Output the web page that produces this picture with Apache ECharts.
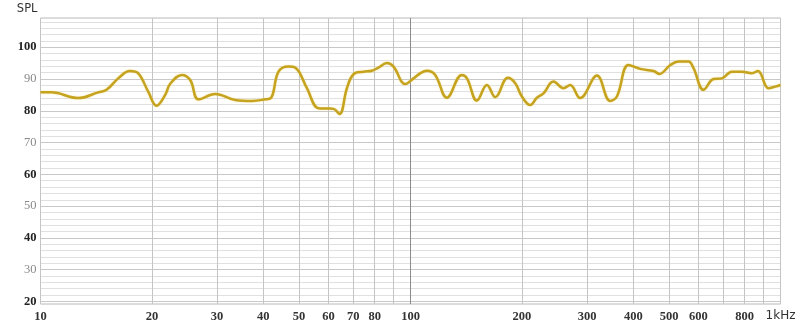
<!DOCTYPE html>
<html>
<head>
<meta charset="utf-8">
<script src="https://cdn.jsdelivr.net/npm/echarts@6/dist/echarts.min.js"></script>
<style>
html,body{margin:0;padding:0;background:#fff;}
#c{width:800px;height:329px;}
</style>
</head>
<body>
<div id="c"></div>
<script>
// frequencies (Hz)
const freqs = [10,10.7,12.64,14.32,15.08,16.22,17.44,18.37,19.55,20.59,21.73,22.42,24.11,25.39,26.73,29.66,33.59,37.27,40.49,42.03,43.99,46.81,48.8,52.48,56.41,60.02,61.92,64.29,67.32,70.15,74.64,78.63,81.93,86.34,89.98,96.76,101.9,106.2,110.7,116.6,125.4,137.7,142.1,151.2,160.9,169.4,183.3,191.9,200,210.7,219.6,228.8,243.5,259.1,270.1,287.4,319.1,346.5,361.3,388.4,417.7,453.8,471,503.5,530.2,564.1,582,619.4,658.9,694.3,738.8,786.5,837,868.8,928.2,967.6,1000];
// SPL values (dB)
const spl = [85.8,85.8,84.0,85.8,86.6,90.2,92.5,91.8,86.0,81.6,85.0,88.5,91.3,89.7,83.6,85.3,83.4,83.1,83.6,84.1,92.3,93.9,93.6,87.1,80.8,80.7,80.6,79.0,87.1,91.5,92.3,92.6,93.6,95.0,93.9,88.4,90.2,91.8,92.6,91.3,84.1,91.3,90.2,83.2,88.1,84.3,90.4,88.7,84.5,81.8,84.1,85.5,89.2,87.1,88.1,84.0,91.1,83.1,84.5,94.4,93.2,92.5,91.6,94.4,95.5,95.5,93.4,86.6,90.0,90.2,92.3,92.3,91.8,92.5,87.1,87.6,88.1];
// x tick labels
const xLabelValues = [10,20,30,40,50,60,70,80,100,200,300,400,500,600,800,1000];
// vertical grid values
const xGridValues = [10,20,30,40,50,60,70,80,90,100,200,300,400,500,600,700,800,900,1000];
// y tick labels
const yLabelValues = [20,30,40,50,60,70,80,90,100];
const yGridValues = [];
for (let v = 20; v <= 108; v += 2) yGridValues.push(v);

const Y_MIN = 19.2, Y_MAX = 109.2;

const chart = echarts.init(document.getElementById('c'), null, {renderer:'canvas'});

const vLines = xGridValues.map(v => ({
  xAxis: v,
  lineStyle: {color: v === 100 ? '#8c8c8c' : '#c4c4c4', width: 1, type: 'solid'}
}));
const hLines = yGridValues.map(v => ({
  yAxis: v,
  lineStyle: {color: v % 10 === 0 ? '#c8c8c8' : '#e0e0e0', width: 1, type: 'solid'}
}));

const option = {
  animation: false,
  backgroundColor: '#fff',
  grid: {left: 40.5, right: 19.5, top: 18, bottom: 25, show: true, borderColor: '#b8b8b8', borderWidth: 1},
  xAxis: {
    type: 'log', logBase: 10, min: 10, max: 1000,
    axisLine: {show: false},
    axisTick: {show: false},
    splitLine: {show: false},
    minorSplitLine: {show: false},
    axisLabel: {
      customValues: xLabelValues,
      margin: 6,
      fontFamily: 'Liberation Sans Narrow', fontWeight: 'bold', fontSize: 12.5, color: '#333',
      formatter: v => (Math.abs(v - 1000) < 1e-6 ? '{k|1kHz}' : String(Math.round(v))),
      rich: {k: {fontFamily: 'DejaVu Sans', fontWeight: 'normal', fontSize: 12, color: '#333'}},
      showMinLabel: true, showMaxLabel: true, hideOverlap: false
    }
  },
  yAxis: {
    type: 'value', min: Y_MIN, max: Y_MAX,
    name: 'SPL', nameLocation: 'end', nameGap: 3,
    nameTextStyle: {align: 'right', fontFamily: 'DejaVu Sans', fontSize: 11.5, color: '#333', padding: [0, 3, 0, 0]},
    axisLine: {show: false},
    axisTick: {show: false},
    splitLine: {show: false},
    axisLabel: {
      customValues: yLabelValues,
      margin: 4,
      formatter: v => (Math.round(v) % 20 === 0 ? '{b|' + Math.round(v) + '}' : '{g|' + Math.round(v) + '}'),
      rich: {
        b: {fontFamily: 'Liberation Sans Narrow', fontWeight: 'bold', fontSize: 12.5, color: '#222'},
        g: {fontFamily: 'Liberation Sans Narrow', fontWeight: 'normal', fontSize: 12.5, color: '#8a8a8a'}
      }
    }
  },
  series: [
    {
      type: 'line', z: 1, silent: true, data: [], symbol: 'none',
      markLine: {silent: true, symbol: ['none','none'], label: {show: false}, animation: false,
        data: hLines.concat(vLines)}
    },
    {
      type: 'line', z: 5,
      data: freqs.map((f, i) => [f, spl[i]]),
      smooth: 0.4,
      symbol: 'none',
      lineStyle: {color: '#c6a31f', width: 2.5, shadowColor: 'rgba(240,215,110,0.6)', shadowBlur: 2}
    }
  ]
};
chart.setOption(option);
</script>
</body>
</html>
